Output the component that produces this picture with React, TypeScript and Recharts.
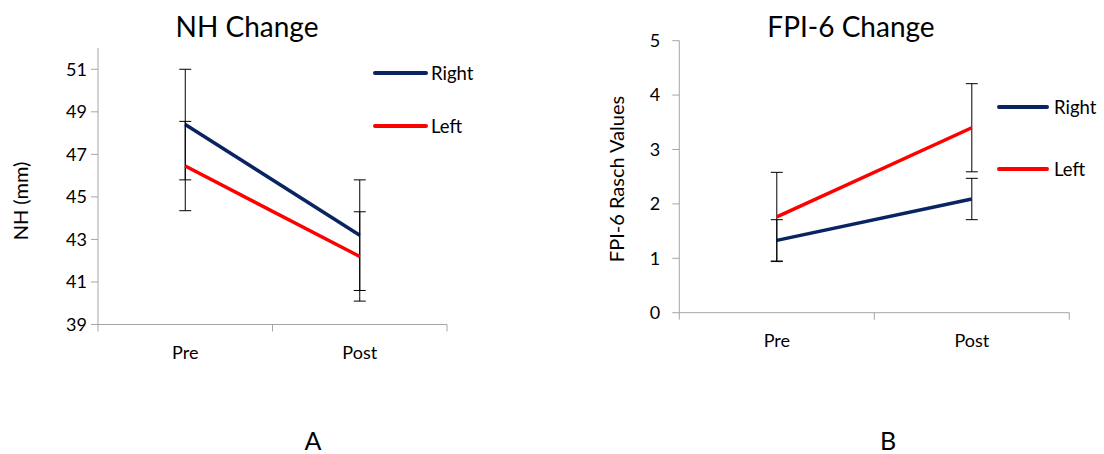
import React from 'react';
import { LineChart, Line, XAxis, YAxis, ErrorBar, Legend } from 'recharts';

// ---------- data ----------
const phases = ['Pre', 'Post'];
const seriesNames = ['Right', 'Left'];
const seriesColors = ['#0A2463', '#FF0000'];

const nhRight = [48.4, 43.2];
const nhRightErr = [2.6, 2.6];
const nhLeft = [46.45, 42.2];
const nhLeftErr = [2.1, 2.1];
const nhTicks = [39, 41, 43, 45, 47, 49, 51];
const nhDomain = [39, 52];

const fpiRight = [1.33, 2.09];
const fpiRightErr = [0.38, 0.38];
const fpiLeft = [1.76, 3.4];
const fpiLeftErr = [0.82, 0.81];
const fpiTicks = [0, 1, 2, 3, 4, 5];
const fpiDomain = [0, 5];

const titles = ['NH Change', 'FPI-6 Change'];
const yLabels = ['NH (mm)', 'FPI-6 Rasch Values'];
const panelLetters = ['A', 'B'];

const buildRows = (r: number[], re: number[], l: number[], le: number[]) =>
  phases.map((p, i) => ({ phase: p, right: r[i], rightErr: re[i], left: l[i], leftErr: le[i] }));

const nhData = buildRows(nhRight, nhRightErr, nhLeft, nhLeftErr);
const fpiData = buildRows(fpiRight, fpiRightErr, fpiLeft, fpiLeftErr);

// ---------- style ----------
const FONT = "Lato, 'Open Sans', sans-serif";
const AXIS = '#A6A6A6';
const TEXT = '#000000';

const makeXTick = (hb: number) => (props: any) => {
  const { x, y, payload, index, visibleTicksCount } = props;
  return (
    <g>
      <line x1={x - hb} y1={y} x2={x - hb} y2={y + 7} stroke={AXIS} strokeWidth={1} />
      {index === visibleTicksCount - 1 ? (
        <line x1={x + hb} y1={y} x2={x + hb} y2={y + 7} stroke={AXIS} strokeWidth={1} />
      ) : null}
      <text x={x} y={y + 34} textAnchor="middle" fontFamily={FONT} fontSize={18} fill={TEXT}>
        {payload.value}
      </text>
    </g>
  );
};

const makeLegend = (rowGap: number, lineW: number, gap: number) => (props: any) => {
  const payload = props.payload || [];
  return (
    <div style={{ position: 'relative', width: 130, height: rowGap + 20 }}>
      {seriesNames.map((name, i) => {
        const item = payload.find((p: any) => p.value === name);
        const color = item ? item.color : seriesColors[i];
        return (
          <div
            key={name}
            style={{
              position: 'absolute',
              left: 0,
              top: i * rowGap,
              height: 20,
              display: 'flex',
              alignItems: 'center',
              whiteSpace: 'nowrap',
            }}
          >
            <div style={{ width: lineW, height: 4, background: color, borderRadius: 2 }} />
            <span style={{ marginLeft: gap, fontFamily: FONT, fontSize: 18.5, color: TEXT, lineHeight: '20px' }}>
              {name}
            </span>
          </div>
        );
      })}
    </div>
  );
};

type PanelProps = {
  data: any[];
  domain: number[];
  ticks: number[];
  margin: { top: number; left: number; right: number; bottom: number };
  hb: number;
  yTickMargin: number;
  legendPos: { left: number; top: number };
  legendGap: number;
  legendLineW: number;
  legendTextGap: number;
};

function Panel(p: PanelProps) {
  return (
    <LineChart width={552} height={454} data={p.data} margin={p.margin}>
      <XAxis
        dataKey="phase"
        scale="point"
        padding={{ left: p.hb, right: p.hb }}
        axisLine={{ stroke: AXIS, strokeWidth: 1 }}
        tickLine={false}
        tickSize={0}
        tickMargin={0}
        interval={0}
        height={30}
        tick={makeXTick(p.hb)}
      />
      <YAxis
        type="number"
        domain={p.domain}
        ticks={p.ticks}
        interval={0}
        allowDataOverflow
        width={60}
        axisLine={{ stroke: AXIS, strokeWidth: 1 }}
        tickLine={{ stroke: AXIS, strokeWidth: 1 }}
        tickSize={7}
        tickMargin={p.yTickMargin}
        tick={{ fontFamily: FONT, fontSize: 18, fill: TEXT }}
      />
      <Legend
        layout="vertical"
        align="center"
        verticalAlign="middle"
        wrapperStyle={{ left: p.legendPos.left, top: p.legendPos.top, width: 130 }}
        content={makeLegend(p.legendGap, p.legendLineW, p.legendTextGap)}
      />
      <Line
        type="linear"
        dataKey="right"
        name={seriesNames[0]}
        stroke={seriesColors[0]}
        strokeWidth={3.5}
        dot={false}
        activeDot={false}
        isAnimationActive={false}
      >
        <ErrorBar dataKey="rightErr" direction="y" width={6} stroke="#000" strokeWidth={1} isAnimationActive={false} />
      </Line>
      <Line
        type="linear"
        dataKey="left"
        name={seriesNames[1]}
        stroke={seriesColors[1]}
        strokeWidth={3.5}
        dot={false}
        activeDot={false}
        isAnimationActive={false}
      >
        <ErrorBar dataKey="leftErr" direction="y" width={6} stroke="#000" strokeWidth={1} isAnimationActive={false} />
      </Line>
    </LineChart>
  );
}

export default function App() {
  return (
    <div style={{ position: 'absolute', left: 0, top: 0, width: 1104, height: 454, background: '#fff', overflow: 'hidden' }}>
      <div style={{ position: 'absolute', left: 0, top: 0 }}>
        <Panel
          data={nhData}
          domain={nhDomain}
          ticks={nhTicks}
          margin={{ top: 48, left: 38, right: 105, bottom: 99.5 }}
          hb={87.25}
          yTickMargin={4}
          legendPos={{ left: 373, top: 63 }}
          legendGap={53.4}
          legendLineW={55}
          legendTextGap={3}
        />
      </div>
      <div style={{ position: 'absolute', left: 552, top: 0 }}>
        <Panel
          data={fpiData}
          domain={fpiDomain}
          ticks={fpiTicks}
          margin={{ top: 40.7, left: 67.3, right: 34.7, bottom: 111.3 }}
          hb={97.5}
          yTickMargin={12}
          legendPos={{ left: 445, top: 97 }}
          legendGap={62.4}
          legendLineW={52}
          legendTextGap={5}
        />
      </div>
      <svg
        width={1104}
        height={454}
        style={{ position: 'absolute', left: 0, top: 0, pointerEvents: 'none' }}
      >
        <text x={247} y={37} textAnchor="middle" fontFamily={FONT} fontSize={28} fill={TEXT}>
          {titles[0]}
        </text>
        <text x={851} y={37} textAnchor="middle" fontFamily={FONT} fontSize={28} fill={TEXT}>
          {titles[1]}
        </text>
        <text
          x={20}
          y={201}
          textAnchor="middle"
          dominantBaseline="central"
          transform="rotate(-90, 20, 201)"
          fontFamily={FONT}
          fontSize={20}
          fill={TEXT}
        >
          {yLabels[0]}
        </text>
        <text
          x={616}
          y={179}
          textAnchor="middle"
          dominantBaseline="central"
          transform="rotate(-90, 616, 179)"
          fontFamily={FONT}
          fontSize={20}
          fill={TEXT}
        >
          {yLabels[1]}
        </text>
        <text x={313} y={450} textAnchor="middle" fontFamily={FONT} fontSize={25} fill={TEXT}>
          {panelLetters[0]}
        </text>
        <text x={888} y={450} textAnchor="middle" fontFamily={FONT} fontSize={25} fill={TEXT}>
          {panelLetters[1]}
        </text>
      </svg>
    </div>
  );
}
